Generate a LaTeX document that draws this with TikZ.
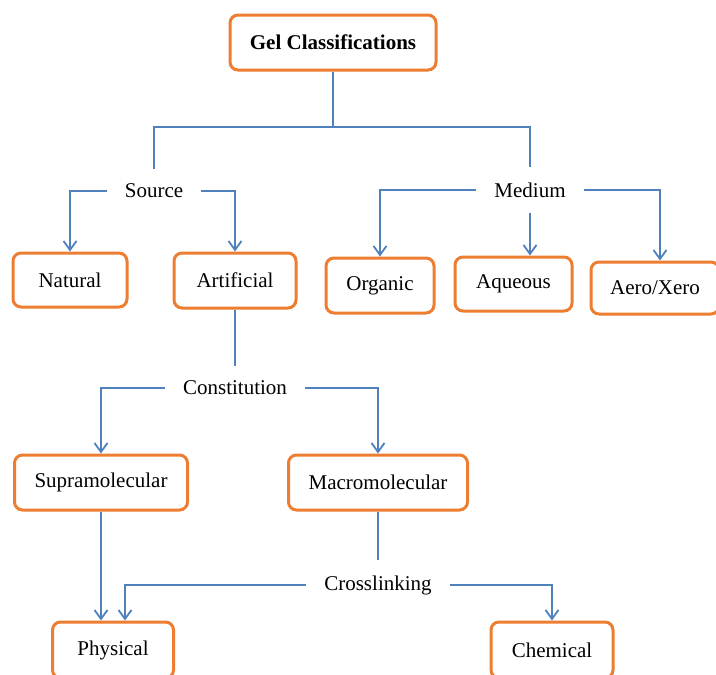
\documentclass[tikz,border=0pt]{standalone}
\usepackage{fontspec}
\setmainfont{Liberation Serif}
\usetikzlibrary{arrows.meta}
\definecolor{boxorange}{RGB}{237,125,49}
\definecolor{lineblue}{RGB}{79,129,189}
\begin{document}
\begin{tikzpicture}[x=1pt,y=-1pt,
  box/.style={draw=boxorange,line width=3pt,rounded corners=8pt,fill=white,
    inner sep=0pt,font=\fontsize{21}{25}\selectfont},
  lbl/.style={inner xsep=18pt,inner ysep=15pt,font=\fontsize{21}{25}\selectfont},
  conn/.style={draw=lineblue,line width=2pt},
  arr/.style={conn,-{Straight Barb[length=9pt,width=13pt,line width=1.8pt]}}]
\useasboundingbox (0,0) rectangle (716,675);
\clip (0,0) rectangle (716,675);
% boxes
\node[box,font=\fontsize{21}{25}\selectfont\bfseries,minimum width=206pt,minimum height=55pt] (gel) at (333,42.5) {Gel Classifications};
\node[box,minimum width=114pt,minimum height=54pt] (natural) at (70,280) {Natural};
\node[box,minimum width=122pt,minimum height=55pt] (artificial) at (235,280.5) {Artificial};
\node[box,minimum width=108pt,minimum height=55pt] (organic) at (380,285.5) {Organic};
\node[box,minimum width=117pt,minimum height=54pt] (aqueous) at (513.5,284) {Aqueous};
\node[box,minimum width=128pt,minimum height=52pt] (aero) at (655,288) {Aero/Xero};
\node[box,minimum width=173pt,minimum height=55pt] (supra) at (101,482.5) {Supramolecular};
\node[box,minimum width=179pt,minimum height=55pt] (macro) at (378,482.5) {Macromolecular};
\node[box,minimum width=121pt,minimum height=56pt] (physical) at (113,650) {Physical};
\node[box,minimum width=122pt,minimum height=56pt] (chemical) at (552,650) {Chemical};
% labels
\node[lbl] (src) at (154,191) {Source};
\node[lbl] (med) at (530,190) {Medium};
\node[lbl] (cons) at (235,388) {Constitution};
\node[lbl] (cross) at (378,585) {Crosslinking};
\coordinate (j1) at (333,127);
% connectors
\draw[conn] (gel.south) -- (j1);
\draw[conn] (src.north) |- (j1) -| (med.north);
\draw[arr] (src.west) -| (natural.north);
\draw[arr] (src.east) -| (artificial.north);
\draw[arr] (med.west) -| (organic.north);
\draw[arr] (med.south) -- (med.south |- aqueous.north);
\draw[arr] (med.east) -| ([xshift=5pt]aero.north);
\draw[conn] (artificial.south) -- (cons.north);
\draw[arr] (cons.west) -| (supra.north);
\draw[arr] (cons.east) -| (macro.north);
\draw[arr] (supra.south) -- (supra.south |- physical.north);
\draw[conn] (macro.south) -- (cross.north);
\draw[arr] (cross.west) -| ([xshift=12pt]physical.north);
\draw[arr] (cross.east) -| (chemical.north);
\end{tikzpicture}
\end{document}
